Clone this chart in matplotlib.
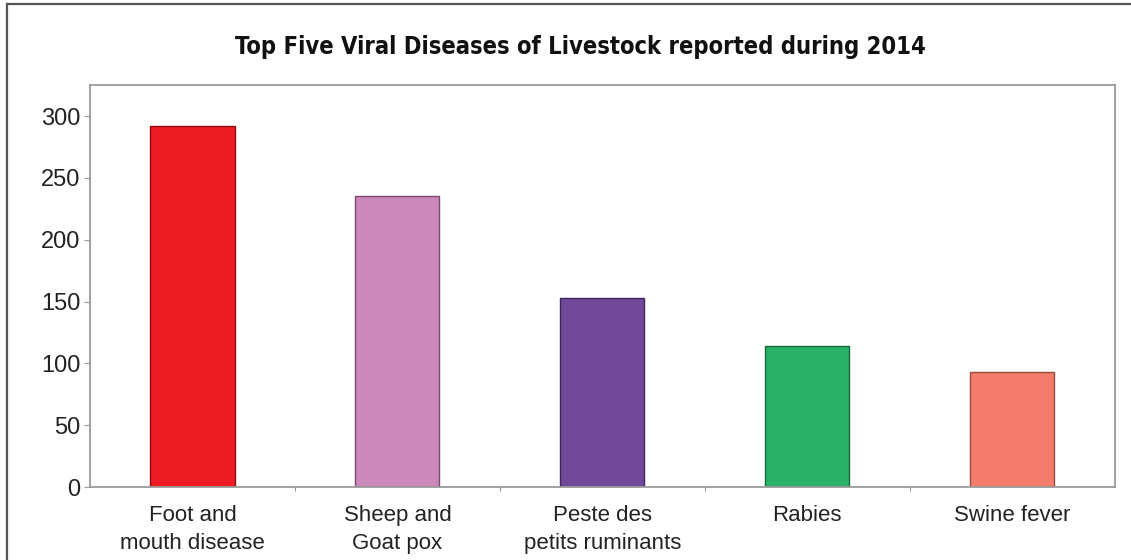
import numpy as np
import matplotlib
matplotlib.use("Agg")
import matplotlib.pyplot as plt
from matplotlib.lines import Line2D

diseases = ["Foot and\nmouth disease", "Sheep and\nGoat pox", "Peste des\npetits ruminants",
            "Rabies", "Swine fever"]
reports = [292, 235, 153, 114, 93]
colors = ["#ED1C24", "#CC88BB", "#71499A", "#2BB06A", "#F37C6C"]
edges = ["#8A1015", "#7A4A70", "#3F2560", "#176B3E", "#9A4A40"]
yticks = [0, 50, 100, 150, 200, 250, 300]

plt.rcParams["font.family"] = ["Liberation Sans", "DejaVu Sans"]

fig = plt.figure(figsize=(11.31, 5.6), dpi=100)
ax = fig.add_axes([0.0796, 0.130, 0.906, 0.718])

x = np.arange(len(diseases))
ax.bar(x, reports, width=0.41, color=colors, edgecolor=edges, linewidth=1.0, zorder=2)

ax.set_xlim(-0.5, len(diseases) - 0.5)
ax.set_ylim(0, 325)
ax.set_yticks(yticks)
ax.set_xticks(x)
ax.set_xticklabels(diseases, fontsize=16, color="#222222", linespacing=1.4)
ax.set_xticks(np.arange(0.5, len(diseases) - 0.5, 1), minor=True)
ax.tick_params(axis="x", which="major", length=0, pad=13)
ax.tick_params(axis="x", which="minor", length=3, color="#777777", direction="out")
ax.tick_params(axis="y", labelsize=17, labelcolor="#222222", length=4, color="#999999", pad=3)

for s in ax.spines.values():
    s.set_color("#9a9a9a")
    s.set_linewidth(1.3)

fig.text(580 / 1131, 1 - 47 / 560, "Top Five Viral Diseases of Livestock reported during 2014",
         ha="center", va="center", fontsize=17, fontweight="bold", fontstretch="condensed",
         color="#111111", family="DejaVu Sans")

# outer frame (left and top)
fig.add_artist(Line2D([7 / 1131, 7 / 1131], [0, 1 - 4 / 560], color="#555555", linewidth=1.6))
fig.add_artist(Line2D([7 / 1131, 1], [1 - 4 / 560, 1 - 4 / 560], color="#555555", linewidth=1.6))

fig.savefig("out.png", dpi=100)
